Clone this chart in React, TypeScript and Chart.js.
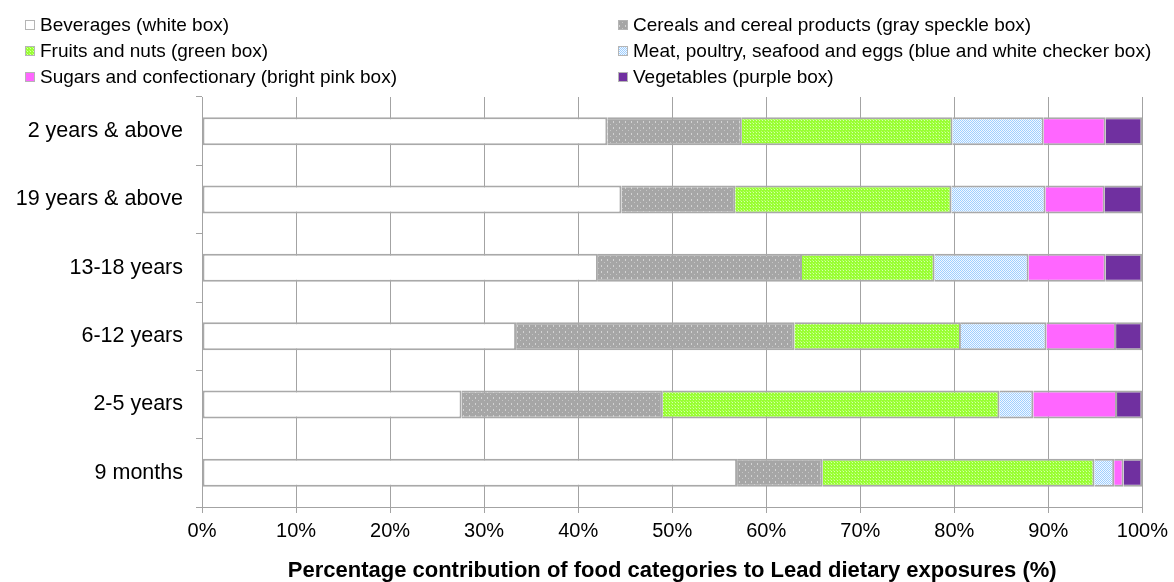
import React, { useEffect, useRef } from "react";
import { Chart, registerables } from "chart.js";

Chart.register(...registerables);

const categories = [
  "2 years & above",
  "19 years & above",
  "13-18 years",
  "6-12 years",
  "2-5 years",
  "9 months",
];

const seriesNames = [
  "Beverages (white box)",
  "Cereals and cereal products (gray speckle box)",
  "Fruits and nuts (green box)",
  "Meat, poultry, seafood and eggs (blue and white checker box)",
  "Sugars and confectionary (bright pink box)",
  "Vegetables (purple box)",
];

const beverages = [43.1, 44.6, 42.1, 33.4, 27.6, 56.9];
const cereals = [14.3, 12.1, 21.7, 29.6, 21.4, 9.1];
const fruits = [22.4, 23.0, 14.1, 17.7, 35.8, 28.9];
const meat = [9.7, 10.0, 10.0, 9.1, 3.6, 2.1];
const sugars = [6.6, 6.3, 8.2, 7.4, 8.9, 1.0];
const vegetables = [3.9, 4.0, 3.9, 2.8, 2.7, 2.0];

const xTicks = [0, 10, 20, 30, 40, 50, 60, 70, 80, 90, 100];

const FONT = "'Liberation Sans', Arial, Helvetica, sans-serif";

function makePattern(w: number, h: number, draw: (ctx: CanvasRenderingContext2D) => void) {
  const c = document.createElement("canvas");
  c.width = w;
  c.height = h;
  const ctx = c.getContext("2d")!;
  draw(ctx);
  return ctx.createPattern(c, "repeat")!;
}

function px(ctx: CanvasRenderingContext2D, color: string, x: number, y: number, w = 1, h = 1) {
  ctx.fillStyle = color;
  ctx.fillRect(x, y, w, h);
}

export default function App() {
  const ref = useRef<HTMLCanvasElement | null>(null);

  useEffect(() => {
    document.body.style.margin = "0";
    const canvas = ref.current!;

    const grayPat = makePattern(6, 6, (ctx) => {
      px(ctx, "#a6a6a6", 0, 0, 6, 6);
      px(ctx, "#d2d2d2", 1, 1, 1, 2);
      px(ctx, "#c6c6c6", 4, 4, 1, 1);
    });
    const greenPat = makePattern(3, 3, (ctx) => {
      px(ctx, "#99ff33", 0, 0, 3, 3);
      px(ctx, "#d6ffad", 0, 0, 1, 1);
      px(ctx, "#b8ff70", 2, 2, 1, 1);
    });
    const bluePat = makePattern(2, 2, (ctx) => {
      px(ctx, "#f2f8ff", 0, 0, 2, 2);
      px(ctx, "#9fcfff", 0, 0, 1, 1);
      px(ctx, "#9fcfff", 1, 1, 1, 1);
    });

    const fills: any[] = ["#ffffff", grayPat, greenPat, bluePat, "#ff66ff", "#7030a0"];
    const values = [beverages, cereals, fruits, meat, sugars, vegetables];
    const border = "#a9a9a9";

    const datasets = values.map((v, i) => ({
      label: seriesNames[i],
      data: v,
      backgroundColor: fills[i],
      borderColor: border,
      borderWidth: { top: 2, bottom: 2, right: 2, left: i === 0 ? 2 : 0 },
      borderSkipped: false as any,
      barPercentage: 0.41,
      categoryPercentage: 1,
    }));

    const legendPlugin = {
      id: "customLegend",
      afterDraw(chart: any) {
        const ctx: CanvasRenderingContext2D = chart.ctx;
        const colBox = [25, 618];
        const colText = [40, 633];
        const rowY = [25, 51, 77];
        ctx.save();
        ctx.font = `19px ${FONT}`;
        ctx.textBaseline = "middle";
        ctx.textAlign = "left";
        chart.data.datasets.forEach((ds: any, i: number) => {
          const col = i % 2;
          const row = Math.floor(i / 2);
          const bx = colBox[col];
          const by = rowY[row] - 5;
          ctx.fillStyle = ds.backgroundColor;
          ctx.fillRect(bx, by, 10, 10);
          ctx.strokeStyle = "#b5b5b5";
          ctx.lineWidth = 1;
          ctx.strokeRect(bx + 0.5, by + 0.5, 9, 9);
          ctx.fillStyle = "#000000";
          ctx.fillText(ds.label, colText[col], rowY[row] + 1);
        });
        ctx.restore();
      },
    };

    const chart = new Chart(canvas, {
      type: "bar",
      data: { labels: categories, datasets },
      plugins: [legendPlugin],
      options: {
        indexAxis: "y",
        responsive: false,
        animation: false,
        layout: { padding: { top: 97, right: 31, bottom: 0, left: 0 } },
        plugins: {
          legend: { display: false },
          tooltip: { enabled: false },
        },
        scales: {
          x: {
            stacked: true,
            min: 0,
            max: 100,
            afterBuildTicks: (scale: any) => {
              scale.ticks = xTicks.map((v) => ({ value: v }));
            },
            afterFit: (scale: any) => {
              scale.height = 75;
            },
            ticks: {
              callback: (v: any) => `${v}%`,
              color: "#000000",
              font: { family: FONT, size: 20 },
              padding: 6,
              maxRotation: 0,
            },
            grid: { color: "#a3a3a3", lineWidth: 1, tickLength: 6 },
            border: { display: true, color: "#a3a3a3", width: 1 },
            title: {
              display: true,
              text: "Percentage contribution of food categories to Lead dietary exposures (%)",
              color: "#000000",
              font: { family: FONT, size: 22, weight: "bold", lineHeight: 1 },
              padding: { top: 0, bottom: 0 },
            },
          },
          y: {
            stacked: true,
            afterFit: (scale: any) => {
              scale.width = 202;
            },
            ticks: {
              color: "#000000",
              font: { family: FONT, size: 21.5 },
              padding: 13,
            },
            grid: {
              offset: true,
              drawOnChartArea: false,
              color: "#a3a3a3",
              tickLength: 6,
            },
            border: { display: true, color: "#a3a3a3", width: 1 },
          },
        },
      },
    } as any);

    return () => chart.destroy();
  }, []);

  return (
    <div style={{ width: 1174, height: 582, background: "#ffffff" }}>
      <canvas ref={ref} width={1174} height={582} style={{ display: "block" }} />
    </div>
  );
}
